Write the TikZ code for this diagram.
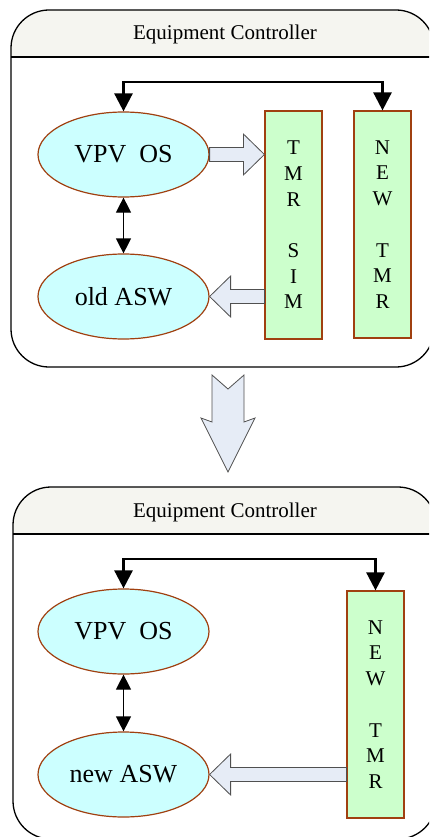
\documentclass[tikz,border=0pt]{standalone}
\usepackage{fontspec}
\setmainfont{Liberation Serif}
\usetikzlibrary{arrows.meta,shapes.geometric,calc}

\definecolor{hdrfill}{RGB}{245,245,240}
\definecolor{osfill}{RGB}{204,255,255}
\definecolor{tmrfill}{RGB}{204,255,204}
\definecolor{rim}{RGB}{160,64,16}
\definecolor{flowfill}{RGB}{230,236,246}
\definecolor{flowrim}{RGB}{80,80,80}

% block arrow: shaft starts at #1, tip at #2 (both at the same height)
\newcommand\flowarrow[2]{%
  \draw[flow] let \p1=(#1), \p2=(#2), \n1={ifthenelse(\x2>\x1,1,-1)} in
    (\x1,\y1-7pt) -- ({\x2-(\n1)*21pt},\y1-7pt) -- ({\x2-(\n1)*21pt},\y1-20.5pt)
    -- (\x2,\y1) -- ({\x2-(\n1)*21pt},\y1+20.5pt) -- ({\x2-(\n1)*21pt},\y1+7pt)
    -- (\x1,\y1+7pt) -- cycle;}

\begin{document}
\begin{tikzpicture}[x=1pt,y=-1pt,
  frame/.style={line width=1.3pt},
  title/.style={font=\fontsize{21}{25}\selectfont},
  swbox/.style={ellipse, draw=rim, line width=1.2pt, fill=osfill,
    minimum width=171pt, minimum height=85pt, inner sep=0pt,
    font=\fontsize{26}{30}\selectfont},
  tmrbox/.style={rectangle, draw=rim, line width=1.2pt, fill=tmrfill,
    minimum width=57pt, inner sep=0pt, align=center,
    font=\fontsize{21}{25.7}\selectfont},
  bus/.style={line width=2.6pt,
    {Triangle[length=18pt,width=18pt]}-{Triangle[length=18pt,width=18pt]}},
  link/.style={line width=1.2pt,
    {Triangle[length=15pt,width=15pt]}-{Triangle[length=15pt,width=15pt]}},
  flow/.style={fill=flowfill, draw=flowrim, line width=0.8pt, line join=miter},
]
\useasboundingbox (0,0) rectangle (429,837);
\clip (0,0) rectangle (429,837);

% ---------- upper controller ----------
\begin{scope}
  \clip[rounded corners=38pt] (11,10) rectangle (434,367);
  \fill[hdrfill] (11,10) rectangle (434,57);
\end{scope}
\draw[frame] (11,57) -- (434,57);
\draw[frame, rounded corners=38pt] (11,10) rectangle (434,367);
\node[title] (titleA) at (225,34) {Equipment Controller};

\node[swbox] (vpvA) at (123.5,154.5) {VPV\ \ OS};
\node[swbox] (oldasw) at (123.5,296.5) {old ASW};
\node[tmrbox, minimum height=228pt] (tmrsim) at (293.5,225)
  {T\\M\\R\\[25.7pt]S\\I\\M};
\node[tmrbox, minimum height=227pt] (newtmrA) at (382.5,224.5)
  {N\\E\\W\\[25.7pt]T\\M\\R};

\coordinate (busA) at (0,82);
\draw[bus] (vpvA.north) -- (vpvA.north |- busA) -- (newtmrA.north |- busA) -- (newtmrA.north);
\draw[link] (vpvA.south) -- (oldasw.north);
\flowarrow{vpvA.east}{tmrsim.west |- vpvA.east}
\flowarrow{tmrsim.west |- oldasw.east}{oldasw.east}

% ---------- migration arrow ----------
\draw[flow] (212,375) -- (228,389) -- (244,375) -- (244,422) -- (255,418)
  -- (228,472) -- (201,418) -- (212,422) -- cycle;

% ---------- lower controller ----------
\begin{scope}
  \clip[rounded corners=38pt] (13,487) rectangle (436,839);
  \fill[hdrfill] (13,487) rectangle (436,534);
\end{scope}
\draw[frame] (13,534) -- (436,534);
\draw[frame, rounded corners=38pt] (13,487) rectangle (436,839);
\node[title] (titleB) at (225,512) {Equipment Controller};

\node[swbox] (vpvB) at (123.5,631.5) {VPV\ \ OS};
\node[swbox] (newasw) at (123.5,774.5) {new ASW};
\node[tmrbox, minimum height=227pt] (newtmrB) at (375.5,704.5)
  {N\\E\\W\\[25.7pt]T\\M\\R};

\coordinate (busB) at (0,559);
\draw[bus] (vpvB.north) -- (vpvB.north |- busB) -- (newtmrB.north |- busB) -- (newtmrB.north);
\draw[link] (vpvB.south) -- (newasw.north);
\flowarrow{newtmrB.west |- newasw.east}{newasw.east}
\end{tikzpicture}
\end{document}
